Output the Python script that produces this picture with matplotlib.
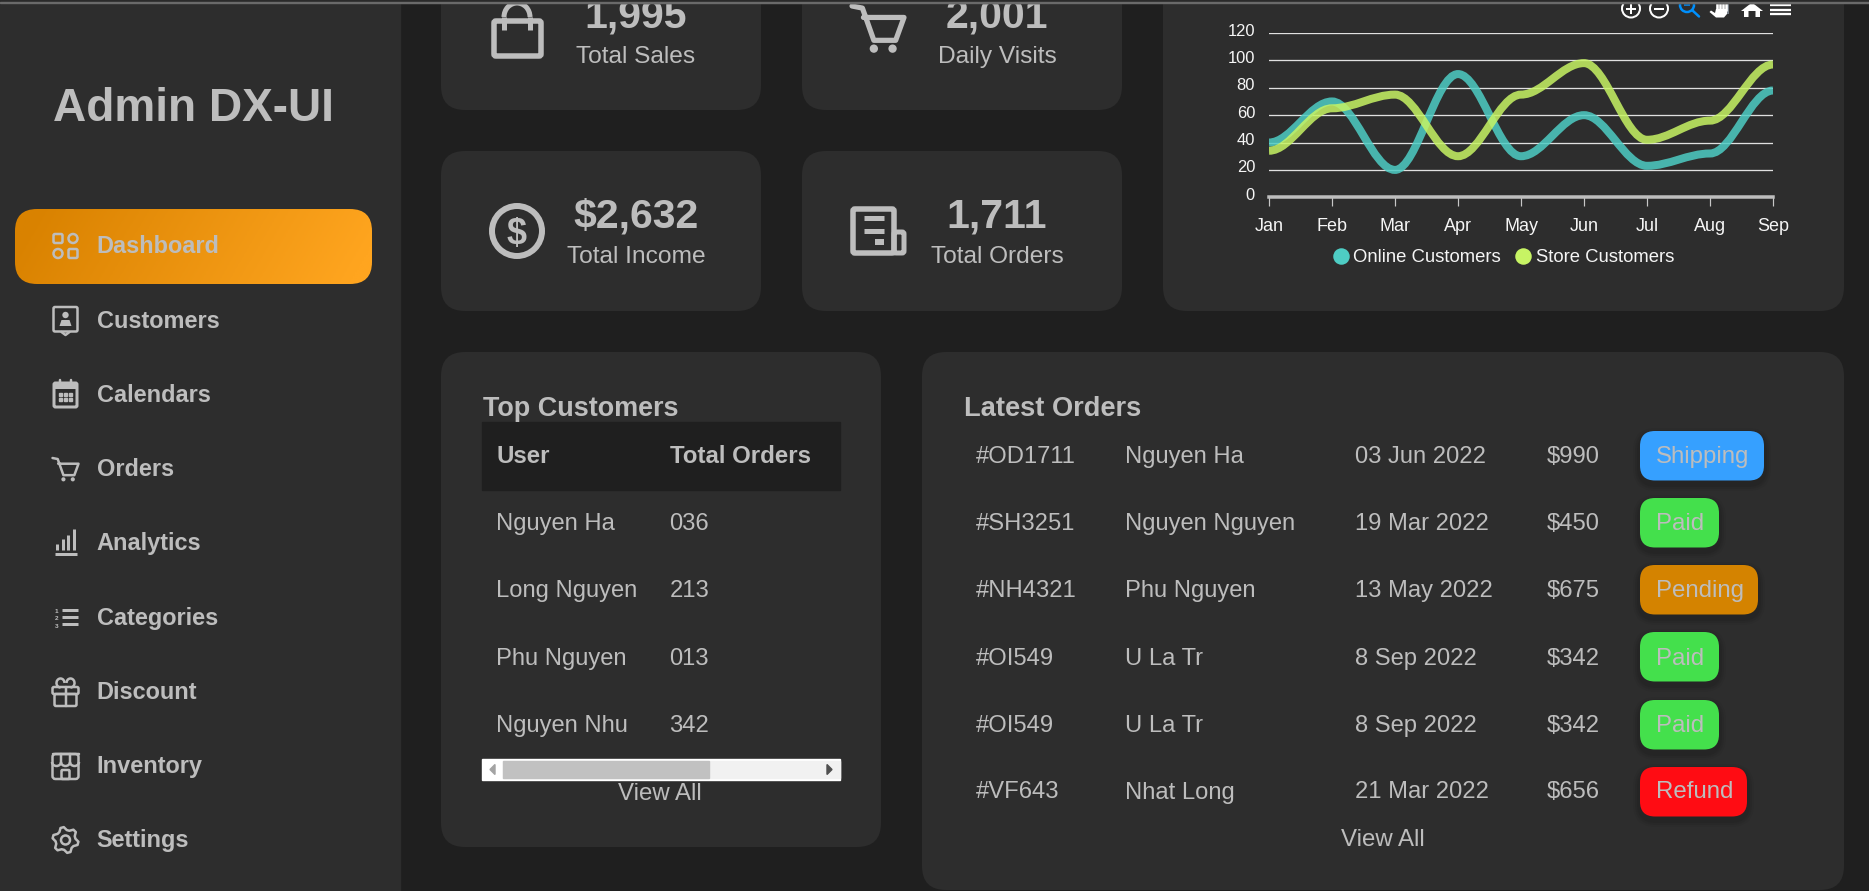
import numpy as np
import matplotlib
matplotlib.use('Agg')
import matplotlib.pyplot as plt
from matplotlib.patches import FancyBboxPatch, Circle, Rectangle, PathPatch, Polygon, Arc
from matplotlib.path import Path
from matplotlib.lines import Line2D
from matplotlib.transforms import ScaledTranslation

plt.rcParams['font.family'] = ['Liberation Sans', 'DejaVu Sans']

MENU_ITEMS = ['Dashboard', 'Customers', 'Calendars', 'Orders', 'Analytics',
              'Categories', 'Discount', 'Inventory', 'Settings']

STAT_VALUES = ['1,995', '2,001', '$2,632', '1,711']
STAT_LABELS = ['Total Sales', 'Daily Visits', 'Total Income', 'Total Orders']

MONTHS = ['Jan', 'Feb', 'Mar', 'Apr', 'May', 'Jun', 'Jul', 'Aug', 'Sep']
ONLINE = [40, 70, 20, 90, 30, 60, 23, 32, 78]
STORE = [34, 65, 75, 30, 75, 98, 42, 56, 97]
Y_TICKS = [0, 20, 40, 60, 80, 100, 120]

TOP_USERS = ['Nguyen Ha', 'Long Nguyen', 'Phu Nguyen', 'Nguyen Nhu']
TOP_TOTALS = ['036', '213', '013', '342']

ORDER_IDS = ['#OD1711', '#SH3251', '#NH4321', '#OI549', '#OI549', '#VF643']
ORDER_NAMES = ['Nguyen Ha', 'Nguyen Nguyen', 'Phu Nguyen', 'U La Tr', 'U La Tr', 'Nhat Long']
ORDER_DATES = ['03 Jun 2022', '19 Mar 2022', '13 May 2022', '8 Sep 2022', '8 Sep 2022', '21 Mar 2022']
ORDER_PRICES = ['$990', '$450', '$675', '$342', '$342', '$656']
ORDER_STATUS = ['Shipping', 'Paid', 'Pending', 'Paid', 'Paid', 'Refund']

BG = '#1f1f1f'
CARD = '#2d2d2d'
TEXT = '#bdbdbd'
WIDTH, HEIGHT = 1869, 891
PT = 0.72  # one pixel in points at dpi 100

BADGE_COLORS = {'Shipping': '#36a0ff', 'Paid': '#44e04c', 'Pending': '#d48300', 'Refund': '#ff0c13'}
BADGE_RIGHT = {'Shipping': 1764, 'Paid': 1719, 'Pending': 1758, 'Refund': 1747}

fig = plt.figure(figsize=(WIDTH / 100, HEIGHT / 100), dpi=100, facecolor=BG)
page = fig.add_axes([0, 0, 1, 1], zorder=0)
page.set_axis_off()


def rounded(x0, y0, x1, y1, r, color, z=1, **kw):
    patch = FancyBboxPatch((x0 + r, y0 + r), x1 - x0 - 2 * r, y1 - y0 - 2 * r,
                           boxstyle='round,pad=%s,rounding_size=%s' % (r, r),
                           facecolor=color, edgecolor='none', linewidth=0, zorder=z, **kw)
    page.add_patch(patch)
    return patch


def label(x, y, s, size, weight='normal', color=TEXT, ha='left', z=5):
    page.text(x, y, s, fontsize=size * PT, fontweight=weight, color=color, ha=ha, va='baseline', zorder=z)


def line(xs, ys, lw=2.5, color=TEXT, z=4, cap='round'):
    page.add_line(Line2D(xs, ys, lw=lw * PT, color=color, zorder=z, solid_capstyle=cap, solid_joinstyle='round'))


def box(x0, y0, x1, y1, lw=2.5, color=TEXT, z=4, r=1.5):
    p = rounded(x0, y0, x1, y1, r, 'none', z=z)
    p.set_edgecolor(color)
    p.set_linewidth(lw * PT)


def ring(x, y, r, lw=2.5, color=TEXT, z=4):
    page.add_patch(Circle((x, y), r, fill=False, edgecolor=color, linewidth=lw * PT, zorder=z))


def dot(x, y, r, color=TEXT, z=4):
    page.add_patch(Circle((x, y), r, facecolor=color, edgecolor='none', zorder=z))


def cart(x, y, s, lw):
    # x, y is the top left of the handle, s the icon width
    line([x, x + .2 * s, x + .42 * s, x + .84 * s, x + s, x + .22 * s],
         [y, y + .04 * s, y + .66 * s, y + .66 * s, y + .22 * s, y + .22 * s], lw=lw)
    dot(x + .42 * s, y + .82 * s, .08 * s)
    dot(x + .78 * s, y + .82 * s, .08 * s)


def icon_dashboard(cx, cy):
    box(cx - 12, cy - 12, cx - 3, cy - 3)
    ring(cx + 7.5, cy - 7.5, 4.5)
    ring(cx - 7.5, cy + 7.5, 4.5)
    box(cx + 3, cy + 3, cx + 12, cy + 12)


def icon_customers(cx, cy):
    line([cx - 4, cx, cx + 4], [cy + 12, cy + 15, cy + 12])
    box(cx - 12, cy - 13, cx + 12, cy + 11.5)
    dot(cx, cy - 5, 3.2)
    page.add_patch(Polygon([[cx - 6, cy + 6], [cx - 4, cy], [cx + 4, cy], [cx + 6, cy + 6]],
                           facecolor=TEXT, edgecolor='none', zorder=4))


def icon_calendar(cx, cy):
    box(cx - 11.5, cy - 12, cx + 11.5, cy + 12, lw=3)
    line([cx - 11.5, cx + 11.5], [cy - 9.5, cy - 9.5], lw=6, cap='butt')
    line([cx - 5.4, cx - 5.4], [cy - 15, cy - 11])
    line([cx + 5.4, cx + 5.4], [cy - 15, cy - 11])
    for i in [-1, 0, 1]:
        for j in [-.7, 4.7]:
            page.add_patch(Rectangle((cx + i * 5.4 - 1.5, cy + j - 1.5), 3, 3, color=TEXT, zorder=4))


def icon_analytics(cx, cy):
    line([cx - 11, cx + 11], [cy + 11, cy + 11], lw=3, cap='butt')
    for i, h in enumerate([6, 11, 15, 21]):
        line([cx - 8.5 + i * 5.6] * 2, [cy + 7, cy + 7 - h], lw=3, cap='butt')


def icon_categories(cx, cy):
    for i, n in enumerate(['1', '2', '3']):
        label(cx - 11, cy - 4 + i * 7.3, n, 6.5, weight='bold', z=4)
        line([cx - 4, cx + 12], [cy - 7.3 + i * 7.3] * 2, lw=3, cap='butt')


def icon_gift(cx, cy):
    box(cx - 13, cy - 5, cx + 13, cy + 2)
    box(cx - 11, cy + 2, cx + 11, cy + 14)
    line([cx, cx], [cy - 5, cy + 14])
    page.add_patch(Arc((cx - 5, cy - 9), 8, 9, theta1=90, theta2=360, edgecolor=TEXT, lw=2.5 * PT, zorder=4))
    page.add_patch(Arc((cx + 5, cy - 9), 8, 9, theta1=180, theta2=90, edgecolor=TEXT, lw=2.5 * PT, zorder=4))


def icon_store(cx, cy):
    box(cx - 13, cy - 12, cx + 13, cy + 13, r=3)
    line([cx - 13, cx + 13], [cy - 12, cy - 12])
    for dx in [-4.5, 4.5]:
        line([cx + dx, cx + dx], [cy - 12, cy - 4])
    for dx in [-9, 0, 9]:
        page.add_patch(Arc((cx + dx, cy - 4), 9, 8, theta1=0, theta2=180, edgecolor=TEXT, lw=2.5 * PT, zorder=4))
    box(cx - 4, cy + 4, cx + 4, cy + 13, r=1)


def icon_gear(cx, cy):
    angles = np.radians(np.arange(0, 360, 15) + 7.5)
    radii = np.tile([13, 13, 10, 10] * 1, 6)
    pts = np.column_stack([cx + radii * np.cos(angles), cy + radii * np.sin(angles)])
    page.add_patch(Polygon(pts, closed=True, fill=False, edgecolor=TEXT, lw=2.5 * PT, joinstyle='round', zorder=4))
    ring(cx, cy, 4.5)


# page background pieces
page.add_patch(Rectangle((0, 0), 400, HEIGHT, color=CARD, zorder=1))

# sidebar
label(53, 121, 'Admin DX-UI', 46, weight='bold')
active = rounded(15, 209, 372, 284, 22, 'none', z=2)
grad = np.linspace(0, 1, 200)[None, :] + np.linspace(-.06, .06, 40)[:, None]
page.imshow(np.clip(grad, 0, 1), extent=(15, 372, 284, 209), aspect='auto', zorder=2,
            cmap=matplotlib.colors.LinearSegmentedColormap.from_list('nav', ['#d98200', '#ffa51f']),
            clip_path=active)

ICONS = [icon_dashboard, icon_customers, icon_calendar, lambda cx, cy: cart(cx - 13, cy - 11, 26, 2.5),
         icon_analytics, icon_categories, icon_gift, icon_store, icon_gear]
MENU_BASE = [253, 328, 402, 476, 550, 625, 699, 773, 847]
MENU_ICON = [246, 320, 395, 469, 543, 617, 692, 766, 840]
for name, base, cy, draw in zip(MENU_ITEMS, MENU_BASE, MENU_ICON, ICONS):
    label(96.5, base, name, 23.5, weight='bold')
    draw(65.5, cy)

# stat cards
rounded(441, -40, 761, 110, 24, CARD)
rounded(802, -40, 1122, 110, 24, CARD)
rounded(441, 151, 761, 311, 24, CARD)
rounded(802, 151, 1122, 311, 24, CARD)
STAT_POS = [(636, 27, 63), (997, 27, 63), (636, 227, 263), (997, 227, 263)]
for value, name, (cx, y0, y1) in zip(STAT_VALUES, STAT_LABELS, STAT_POS):
    label(cx, y0, value, 41, weight='bold', ha='center')
    label(cx, y1, name, 24.5, ha='center')

# bag icon
box(494, 21, 541, 56, lw=5.5, r=2)
page.add_patch(Arc((517, 17), 26, 28, theta1=180, theta2=360, edgecolor=TEXT, lw=5 * PT, zorder=4))
line([504, 504], [17, 30], lw=5, cap='butt')
line([530, 530], [17, 30], lw=5, cap='butt')
# cart icon
cart(852, 6, 52, 5.2)
# dollar icon
ring(517, 231, 25, lw=6)
label(517, 244, '$', 36, weight='bold', ha='center', z=4)
# newspaper icon
box(853, 209, 894, 253, lw=5.5, r=2)
box(894, 232, 904, 253, lw=5, r=2)
line([864, 884], [218, 218], lw=5, cap='butt')
line([864, 884], [231, 231], lw=5, cap='butt')
line([875, 884], [241.5, 241.5], lw=6, cap='butt')

# chart card and toolbar
rounded(1163, -40, 1844, 311, 24, CARD)
for x, sign in [(1631, True), (1659, False)]:
    ring(x, 8.5, 9, lw=2, color='white')
    line([x - 5, x + 5], [8.5, 8.5], lw=2, color='white', cap='butt')
    if sign:
        line([x, x], [3.5, 13.5], lw=2, color='white', cap='butt')
ring(1687, 5, 7, lw=2.5, color='#008ffb')
line([1692, 1699], [10, 16.5], lw=2.5, color='#008ffb')
line([1684, 1690], [5, 5], lw=1.5, color='#008ffb', cap='butt')
line([1727.5, 1727.5], [3, 14], lw=1.5, color='#8f9aa5', cap='butt')
page.add_patch(Polygon([[1716, 9], [1727, 9], [1727, 14], [1724, 17.5], [1716, 17.5], [1709.5, 12], [1711, 10.5], [1715, 13]],
                       facecolor='white', edgecolor='none', zorder=5))
for x in [1716.5, 1719.8, 1723.1, 1726]:
    line([x, x], [3, 11], lw=2.6, color='white', cap='butt', z=5)
page.add_patch(Polygon([[1741, 11], [1752, 2.5], [1763, 11], [1760, 11], [1760, 17], [1755.5, 17], [1755.5, 11],
                        [1748.5, 11], [1748.5, 17], [1744, 17], [1744, 11]],
                       facecolor='white', edgecolor='none', zorder=4))
for y in [5, 9.5, 14]:
    line([1770, 1791], [y, y], lw=2.3, color='white', cap='butt')

# line chart
chart = fig.add_axes([1269 / WIDTH, 1 - 197.3 / HEIGHT, 504 / WIDTH, 164.3 / HEIGHT], zorder=2)
chart.patch.set_alpha(0)
chart.set_xlim(0, len(MONTHS) - 1)
chart.set_ylim(0, 120)


def smooth_path(values):
    # flat tangents at each point, like the web chart does it
    verts = [(0, values[0])]
    codes = [Path.MOVETO]
    for i in range(1, len(values)):
        verts += [(i - 1 + .35, values[i - 1]), (i - .35, values[i]), (i, values[i])]
        codes += [Path.CURVE4] * 3
    return Path(verts, codes)


chart.add_patch(PathPatch(smooth_path(ONLINE), fill=False, edgecolor='#4ecdc4', alpha=.85,
                          lw=8 * PT, capstyle='butt', zorder=3))
chart.add_patch(PathPatch(smooth_path(STORE), fill=False, edgecolor='#c7f464', alpha=.85,
                          lw=8 * PT, capstyle='butt', zorder=3))

chart.set_xticks(range(len(MONTHS)), MONTHS)
chart.set_yticks(Y_TICKS)
chart.grid(axis='y', color='#e0e0e0', lw=1.3 * PT, zorder=1)
chart.yaxis.get_gridlines()[0].set_visible(False)
chart.set_axisbelow(True)
for name in ['top', 'left', 'right']:
    chart.spines[name].set_visible(False)
chart.spines['bottom'].set_color('#bdbdbd')
chart.spines['bottom'].set_linewidth(3.5 * PT)
chart.tick_params(axis='x', length=9 * PT, width=1.2 * PT, color='#c8c8c8', labelcolor='#f5f5f5',
                  labelsize=18 * PT, pad=11.5 * PT)
chart.tick_params(axis='y', length=0, labelcolor='#f5f5f5', labelsize=16.5 * PT, pad=14 * PT)
for tick in chart.get_yticklabels():
    tick.set_transform(tick.get_transform() + ScaledTranslation(0, 3.5 / 100, fig.dpi_scale_trans))

handles = [Line2D([], [], ls='', marker='o', ms=16.5 * PT, mew=0, color='#4ecdc4', label='Online Customers'),
           Line2D([], [], ls='', marker='o', ms=16.5 * PT, mew=0, color='#c7f464', label='Store Customers')]
chart.legend(handles=handles, loc='center', bbox_to_anchor=(1503, 257.5), bbox_transform=page.transData,
             ncol=2, frameon=False, labelcolor='#f5f5f5', fontsize=18.5 * PT, handletextpad=.2,
             columnspacing=.7, handlelength=1, borderpad=0, borderaxespad=0)

# top customers
rounded(441, 352, 881, 847, 24, CARD)
label(483, 415.5, 'Top Customers', 27, weight='bold')
page.add_patch(Rectangle((482, 422), 358, 68, color=BG, zorder=2))
label(496, 463, 'User', 24, weight='bold')
label(670, 463, 'Total Orders', 24, weight='bold')
TOP_BASE = [530, 597, 665, 732]
for user, total, y in zip(TOP_USERS, TOP_TOTALS, TOP_BASE):
    label(496, y, user, 23.7)
    label(669.5, y, total, 23.7)
page.add_patch(Rectangle((482, 759), 358, 21, color='white', zorder=2))
page.add_patch(Rectangle((503, 761), 337, 17, color='#f1f1f1', zorder=2))
page.add_patch(Rectangle((503, 761), 206, 17, color='#c1c1c1', zorder=3))
page.add_patch(Polygon([[495, 764.5], [495, 774.5], [490, 769.5]], color='#a3a3a3', zorder=3))
page.add_patch(Polygon([[827, 764.5], [827, 774.5], [832, 769.5]], color='#505050', zorder=3))
label(660, 800, 'View All', 24, ha='center')

# latest orders
rounded(922, 352, 1844, 890, 24, CARD)
label(964, 415.5, 'Latest Orders', 27.2, weight='bold')
ORDER_BASE = [463, 530, 597, 665, 732, 798.5]
BADGE_TOP = [431, 498, 565, 632, 700, 767]
for i, y in enumerate(ORDER_BASE):
    label(976.2, y, ORDER_IDS[i], 23.7)
    label(1125, y, ORDER_NAMES[i], 23.7)
    label(1355, y, ORDER_DATES[i], 23.7)
    label(1546.7, y, ORDER_PRICES[i], 23.7)
    status = ORDER_STATUS[i]
    top = BADGE_TOP[i]
    for grow, a in [(7, .04), (5, .05), (3, .06)]:
        rounded(1640 - grow, top + 4 - grow, BADGE_RIGHT[status] + grow, top + 53 + grow, 16 + grow, 'black',
                z=2, alpha=a)
    rounded(1640, top, BADGE_RIGHT[status], top + 49.5, 15, BADGE_COLORS[status], z=3)
    label(1655.6, y, status, 24)
label(1383, 846, 'View All', 24, ha='center')

# browser edge at the very top
page.add_patch(Rectangle((0, 0), WIDTH, 3, color='#2a2a2a', zorder=20))
page.add_patch(Rectangle((0, 1.6), WIDTH, 1.4, color='#6a6a6a', zorder=21))

page.set_xlim(0, WIDTH)
page.set_ylim(HEIGHT, 0)

fig.savefig('out.png', dpi=100, facecolor=BG)
